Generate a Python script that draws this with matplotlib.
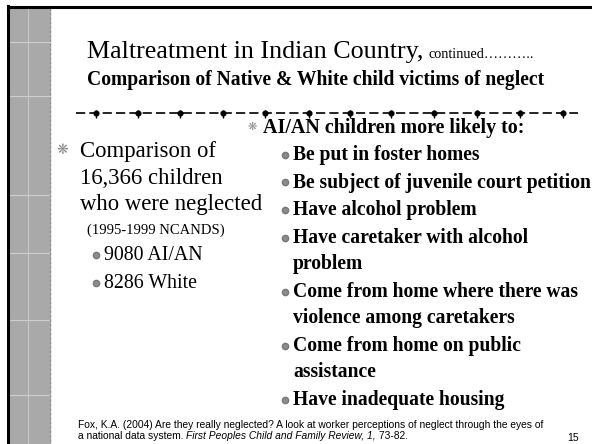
import matplotlib.pyplot as plt
from matplotlib.patches import Rectangle

# slide text
title = "Maltreatment in Indian Country,"
title_tail = "continued……….."
subtitle = "Comparison of Native & White child victims of neglect"

left_lines = ["Comparison of", "16,366 children", "who were neglected"]
left_note = "(1995-1999 NCANDS)"
left_items = ["9080 AI/AN", "8286 White"]

right_head = "AI/AN children more likely to:"
right_items = [
    ["Be put in foster homes"],
    ["Be subject of juvenile court petition"],
    ["Have alcohol problem"],
    ["Have caretaker with alcohol", "problem"],
    ["Come from home where there was", "violence among caretakers"],
    ["Come from home on public", "assistance"],
    ["Have inadequate housing"],
]
# divider marker positions (px)
div_marks = [96, 138, 180, 223, 265, 309, 350, 391, 434, 477, 520, 563]

citation = ["Fox, K.A. (2004) Are they really neglected? A look at worker perceptions of neglect through the eyes of",
            "a national data system. "]
cite_italic = "First Peoples Child and Family Review, 1,"
cite_end = " 73-82."
page_no = "15"

serif = "Liberation Serif"
sans = "Liberation Sans"

fig = plt.figure(figsize=(5.92, 4.44), dpi=100)
ax = fig.add_axes([0, 0, 1, 1])
ax.set_xlim(0, 592)
ax.set_ylim(444, 0)
ax.axis("off")

# left textured strip
ax.add_patch(Rectangle((9, 8), 41, 436, color="#a9a9a9", zorder=0))
for y in [42, 96, 195, 253, 320, 395]:
    ax.plot([9, 50], [y, y], color="#cfcfcf", lw=0.8, zorder=1)
ax.plot([28, 28], [8, 444], color="#c8c8c8", lw=0.8, zorder=1)
ax.plot([50, 50], [8, 444], color="#8a8a8a", lw=0.8, ls=(0, (2, 2)), zorder=1)
# border lines
ax.plot([8, 592], [7, 7], color="black", lw=2.2)
ax.plot([8, 8], [6, 444], color="black", lw=2.2)


def right_of(artist):
    fig.canvas.draw()
    return ax.transData.inverted().transform((artist.get_window_extent().x1, 0))[0]


# title
t = ax.text(87, 58, title, fontsize=18.7, family=serif, va="baseline")
ax.text(right_of(t) + 5, 58, title_tail, fontsize=10.3, family=serif, va="baseline")
ax.text(87, 85, subtitle, fontsize=14.1, family=serif, weight="bold", va="baseline")

# divider
ax.plot([76, 578], [113, 113], color="black", lw=1.2, ls=(0, (5.5, 2.5)))
ax.plot(div_marks, [113] * len(div_marks), ls="none", marker="o", ms=3.4, color="black")
ax.plot(div_marks, [114.5] * len(div_marks), ls="none", marker="|", ms=5.5, mew=1, color="black")

# left column
y = 157
ax.text(62, y - 7, "❋", fontsize=10, color="#8a8a8a", ha="center", va="center", family="DejaVu Sans")
for line in left_lines:
    ax.text(80, y, line, fontsize=16.4, family=serif, va="baseline")
    y += 26.5
ax.text(87, 234, left_note, fontsize=10.5, family=serif, va="baseline")
y = 260
for item in left_items:
    ax.plot(96, y - 5, marker="o", ms=4.5, color="#8c8c8c", mec="#777777")
    ax.text(104, y, item, fontsize=14.3, family=serif, va="baseline")
    y += 28

# right column
ax.text(252, 127, "❋", fontsize=8, color="#8a8a8a", ha="center", va="center", family="DejaVu Sans")
ax.text(263, 133, right_head, fontsize=14.4, family=serif, weight="bold", va="baseline")
y = 160
for item in right_items:
    ax.plot(285, y - 5, marker="o", ms=4.5, color="#8c8c8c", mec="#777777")
    for line in item:
        ax.text(293, y, line, fontsize=14.1, family=serif, weight="bold", va="baseline")
        y += 26.5
    y += 1

# citation
fs = 7.35
ax.text(78, 428, citation[0], fontsize=fs, family=sans, va="baseline")
c = ax.text(78, 439, citation[1], fontsize=fs, family=sans, va="baseline")
c2 = ax.text(right_of(c), 439, cite_italic, fontsize=fs, family=sans, style="italic", va="baseline")
ax.text(right_of(c2), 439, cite_end, fontsize=fs, family=sans, va="baseline")
ax.text(567, 441, page_no, fontsize=7.5, family=sans, va="baseline")

fig.savefig("out.png", dpi=100)
